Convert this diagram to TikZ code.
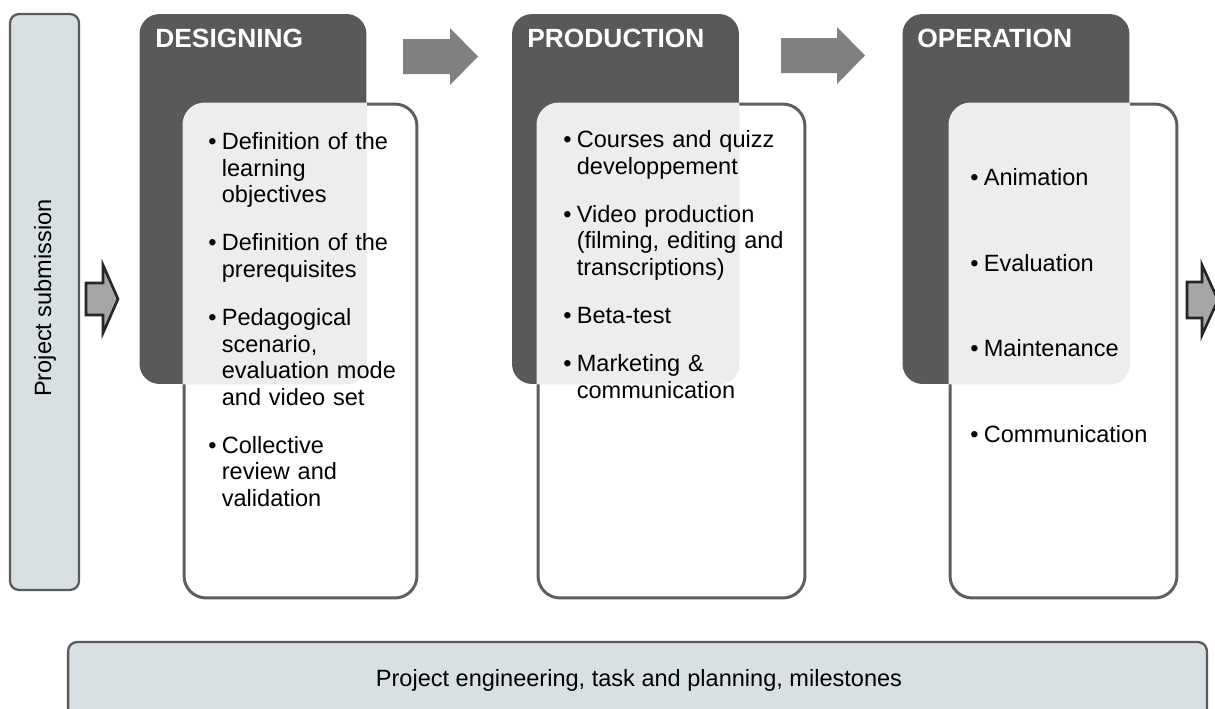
\documentclass[tikz,border=0pt]{standalone}
\usepackage{fontspec}
\setmainfont{Liberation Sans}
\usepackage{enumitem}
\setlist[itemize]{nosep, leftmargin=0.27cm, labelwidth=0.2cm, labelsep=0.07cm, align=left, itemsep=0.43cm, label=\strut\textbullet}
\definecolor{phasedark}{HTML}{595959}
\definecolor{overlap}{HTML}{EDEDED}
\definecolor{boxline}{HTML}{5E5E5E}
\definecolor{barfill}{HTML}{D9E0E3}
\definecolor{barline}{HTML}{5A5A5A}
\definecolor{arrowgray}{HTML}{808080}
\definecolor{arrowlight}{HTML}{A6A6A6}
\definecolor{arrowline}{HTML}{262626}
\begin{document}
\begin{tikzpicture}[x=0.02cm,y=-0.02cm]
        \tikzstyle{phase} = [rectangle, rounded corners=0.4cm, minimum width=4.54cm, minimum height=7.4cm, fill=phasedark, inner sep=0]
        \tikzstyle{tasks} = [rectangle, rounded corners=0.44cm, minimum height=9.88cm, fill=white, draw=boxline, line width=1.7pt, inner sep=0]
        \tikzstyle{title} = [anchor=base west, inner sep=0, text=white, font=\fontsize{15}{18}\selectfont\bfseries]
        \tikzstyle{list} = [anchor=north west, inner sep=0, font=\fontsize{13.4}{15.1}\selectfont]
        \tikzstyle{bar} = [rectangle, rounded corners=0.18cm, fill=barfill, draw=barline, line width=1.3pt, inner sep=0]
        \tikzstyle{bigarrow} = [fill=arrowgray]
        \tikzstyle{smallarrow} = [fill=arrowlight, draw=arrowline, line width=1.5pt, line join=miter]
        \useasboundingbox (0,0) rectangle (1215,708);
        % side and bottom bars
        \node (submit) [bar, minimum width=1.38cm, minimum height=11.52cm] at (44.5,302) {};
        \node (submittext) [rotate=90, font=\fontsize{13.4}{15.4}\selectfont] at (45,298) {Project submission};
        \node (plan) [bar, minimum width=22.78cm, minimum height=1.76cm] at (637.5,686) {};
        \node (plantext) [font=\fontsize{13.4}{15.4}\selectfont] at (639,680) {Project engineering, task and planning, milestones};
        % task boxes and phase boxes
        \node (destasks) [tasks, minimum width=4.66cm] at (300.5,351) {};
        \node (protasks) [tasks, minimum width=5.34cm] at (671.5,351) {};
        \node (opetasks) [tasks, minimum width=4.54cm] at (1063.5,351) {};
        \node (des) [phase] at (253,199) {};
        \node (pro) [phase] at (625.5,199) {};
        \node (ope) [phase] at (1016,199) {};
        \foreach \p/\t in {des/destasks, pro/protasks, ope/opetasks} {
            \begin{scope}
                \clip[rounded corners=0.4cm] (\p.south west) rectangle (\p.north east);
                \fill[overlap, rounded corners=0.44cm] (\t.south west) rectangle (\t.north east);
            \end{scope}
        }
        \node (destitle) [title] at (155,47) {DESIGNING};
        \node (protitle) [title] at (527,47) {PRODUCTION};
        \node (opetitle) [title] at (917,47) {OPERATION};
        \node (deslist) [list, text width=4.1cm] at (208,123) {
            \begin{itemize}
                \item Definition of the\\learning\\objectives
                \item Definition of the\\prerequisites
                \item Pedagogical\\scenario,\\evaluation mode\\and video set
                \item Collective\\review and\\validation
            \end{itemize}};
        \node (prolist) [list, text width=4.9cm] at (563,121) {
            \begin{itemize}
                \item Courses and quizz\\developpement
                \item Video production\\(filming, editing and\\transcriptions)
                \item Beta-test
                \item Marketing \&\\communication
            \end{itemize}};
        \node (opelist) [list, text width=4.0cm] at (970,159) {
            \begin{itemize}[itemsep=1.18cm]
                \item Animation
                \item Evaluation
                \item Maintenance
                \item Communication
            \end{itemize}};
        % arrows
        \fill[bigarrow] (403,39) -- (450,39) -- (450,28) -- (478,56.5) -- (450,85) -- (450,74) -- (403,74) -- cycle;
        \fill[bigarrow] (781,38) -- (837,38) -- (837,27) -- (865,55.5) -- (837,84) -- (837,73) -- (781,73) -- cycle;
        \draw[smallarrow] (86,283) -- (103,283) -- (103,265) -- (118,299) -- (103,333) -- (103,315) -- (86,315) -- cycle;
        \draw[smallarrow] (1187,282) -- (1202,282) -- (1202,265) -- (1218,300) -- (1202,335) -- (1202,318) -- (1187,318) -- cycle;
\end{tikzpicture}
\end{document}
